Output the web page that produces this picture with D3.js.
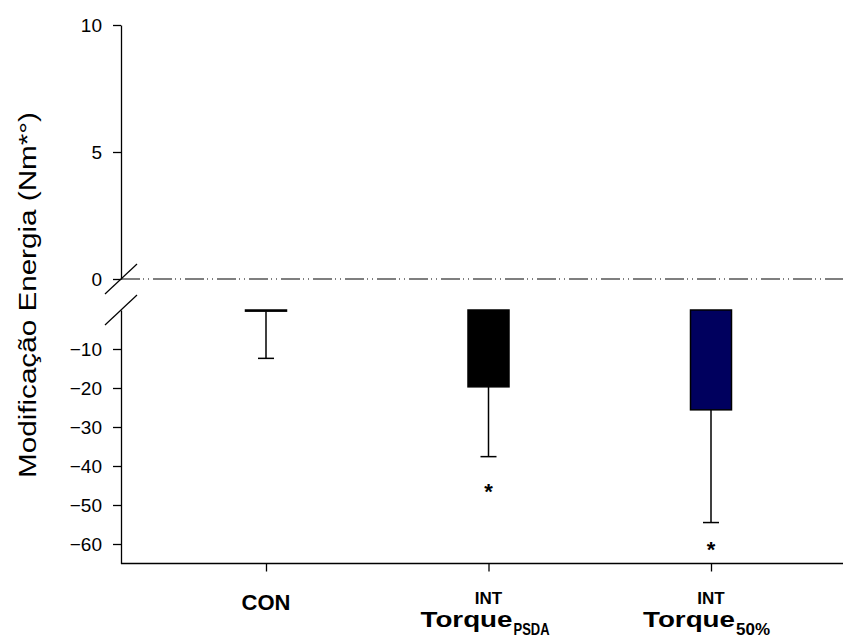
<!DOCTYPE html>
<html>
<head>
<meta charset="utf-8">
<script src="https://cdn.jsdelivr.net/npm/d3@7/dist/d3.min.js"></script>
<style>
  html, body { margin: 0; padding: 0; background: #fff; }
  svg { display: block; }
  text { font-family: "Liberation Sans", Arial, sans-serif; fill: #000; }
</style>
</head>
<body>
<svg id="chart" width="843" height="641"></svg>
<script>
// Energy change per group (mean and SD), split y axis
const categories = ["CON", "INT_PSDA", "INT_50"];
const groupLines = ["CON", "INT", "INT"];
const torqueSubs = [null, "PSDA", "50%"];
const means = [-0.3, -19.7, -25.6];
const sds = [12.1, 17.9, 28.9];
const starValues = [null, -45.8, -60.8];
const barFills = ["#ffffff", "#000000", "#00005e"];
const upperTicks = [0, 5, 10];
const lowerTicks = [-10, -20, -30, -40, -50, -60];

const svg = d3.select("#chart");
const axisX = 121, rightEdge = 843;

// Two y scales for the broken axis
const yUp = d3.scaleLinear().domain([0, 10]).range([279, 25]);
const yLow = d3.scaleLinear().domain([-65, 0]).range([563.5, 310]);
const x = d3.scalePoint().domain(categories).range([266, 711]);
const barW = 41, capW = 16;

// Upper axis segment
const upAxis = svg.append("g").attr("transform", `translate(${axisX},0)`)
  .call(d3.axisLeft(yUp).tickValues(upperTicks).tickSize(8).tickPadding(11).tickSizeOuter(0));
// Lower axis segment
const lowAxis = svg.append("g").attr("transform", `translate(${axisX},0)`)
  .call(d3.axisLeft(yLow).tickValues(lowerTicks).tickSize(8).tickPadding(11).tickSizeOuter(0));
[upAxis, lowAxis].forEach(g => {
  g.selectAll("path.domain").attr("stroke", "#000").attr("stroke-width", 1.3);
  g.selectAll(".tick line").attr("stroke", "#000").attr("stroke-width", 1.3);
  g.selectAll(".tick text").attr("font-family", "Liberation Sans, Arial, sans-serif")
    .attr("font-size", 19).attr("fill", "#000");
});

// Break marks on the y axis
[yUp(0), yLow(0)].forEach(yy => {
  svg.append("line").attr("x1", axisX - 16).attr("y1", yy + 15)
    .attr("x2", axisX + 16).attr("y2", yy - 15)
    .attr("stroke", "#000").attr("stroke-width", 1.2);
});

// Dash-dot zero reference line
svg.append("line").attr("x1", axisX).attr("x2", rightEdge)
  .attr("y1", yUp(0)).attr("y2", yUp(0))
  .attr("stroke", "#000").attr("stroke-width", 1.2)
  .attr("stroke-dasharray", "19,3,1,4,1,4");

// X axis at the bottom of the lower segment
const xAxis = svg.append("g").attr("transform", `translate(0,${yLow(-65)})`)
  .call(d3.axisBottom(x).tickSize(8).tickFormat(""));
xAxis.select("path.domain").attr("d", `M${axisX},0H${rightEdge}`)
  .attr("stroke", "#000").attr("stroke-width", 1.3);
xAxis.selectAll(".tick line").attr("stroke", "#000").attr("stroke-width", 1.3);

const data = categories.map((c, i) => ({ c, mean: means[i], sd: sds[i], fill: barFills[i], star: starValues[i] }));

// Error bars (downward only)
const eb = svg.append("g");
data.forEach(d => {
  const cx = x(d.c);
  eb.append("line").attr("x1", cx).attr("x2", cx)
    .attr("y1", yLow(d.mean)).attr("y2", yLow(d.mean - d.sd))
    .attr("stroke", "#000").attr("stroke-width", 1.5);
  eb.append("line").attr("x1", cx - capW / 2).attr("x2", cx + capW / 2)
    .attr("y1", yLow(d.mean - d.sd)).attr("y2", yLow(d.mean - d.sd))
    .attr("stroke", "#000").attr("stroke-width", 1.5);
});

// Bars hang from zero in the lower segment
svg.append("g").selectAll("rect").data(data).join("rect")
  .attr("x", d => x(d.c) - barW / 2)
  .attr("y", yLow(0))
  .attr("width", barW)
  .attr("height", d => yLow(d.mean) - yLow(0))
  .attr("fill", d => d.fill)
  .attr("stroke", "#000").attr("stroke-width", 1.5);

// Significance markers
svg.append("g").selectAll("text").data(data.filter(d => d.star !== null)).join("text")
  .attr("x", d => x(d.c)).attr("y", d => yLow(d.star) + 10)
  .attr("text-anchor", "middle").attr("font-size", 22).attr("font-weight", "bold")
  .text("*");

// Category labels
categories.forEach((c, i) => {
  const cx = x(c);
  if (!torqueSubs[i]) {
    svg.append("text").attr("x", cx).attr("y", 610)
      .attr("text-anchor", "middle").attr("font-size", 22).attr("font-weight", "bold")
      .text(groupLines[i]);
  } else {
    svg.append("text").attr("x", cx).attr("y", 603.5)
      .attr("text-anchor", "middle").attr("font-size", 17).attr("font-weight", "bold")
      .text(groupLines[i]);
    const x0 = cx - 68;
    svg.append("text").attr("x", x0).attr("y", 627)
      .attr("font-size", 22).attr("font-weight", "bold")
      .attr("textLength", 92).attr("lengthAdjust", "spacingAndGlyphs")
      .text("Torque");
    svg.append("text").attr("x", x0 + 93).attr("y", 635)
      .attr("font-size", 17).attr("font-weight", "bold")
      .attr("textLength", i === 1 ? 36 : 34).attr("lengthAdjust", "spacingAndGlyphs")
      .text(torqueSubs[i]);
  }
});

// Y axis title
svg.append("text")
  .attr("transform", "translate(36,295) rotate(-90)")
  .attr("text-anchor", "middle").attr("font-size", 23)
  .attr("textLength", 366).attr("lengthAdjust", "spacingAndGlyphs")
  .text("Modificação Energia (Nm*°)");
</script>
</body>
</html>
